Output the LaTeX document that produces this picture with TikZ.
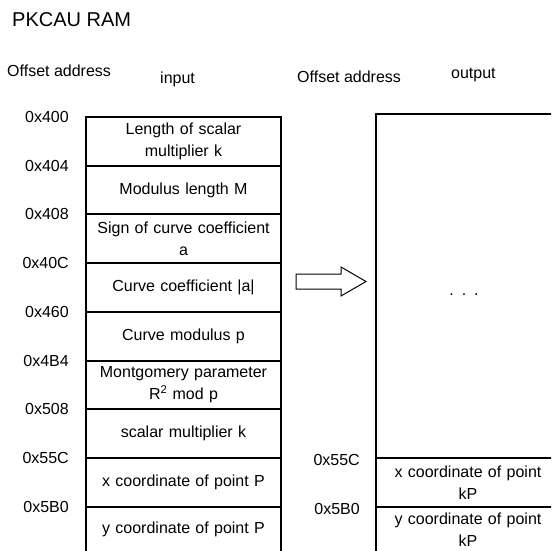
\documentclass[tikz,border=0pt]{standalone}
\usepackage{fontspec}
\setmainfont{Liberation Sans}

\begin{document}
\begin{tikzpicture}[x=1pt,y=-1pt,
  cell/.style={align=center,text width=190pt,inner sep=0pt,font=\fontsize{16}{22}\selectfont},
  addr/.style={anchor=east,inner sep=0pt,font=\fontsize{16}{19}\selectfont},
  head/.style={anchor=base west,inner sep=0pt,font=\fontsize{16}{19}\selectfont}]
\clip (0,0) rectangle (551,551);
\coordinate (A) at (86,117); \coordinate (B) at (281,556);
\coordinate (C) at (376,114); \coordinate (D) at (560,556);
% titles
\node[head,font=\fontsize{20}{24}\selectfont] (title) at (12,27) {PKCAU RAM};
\node[head] (offin) at (7,77) {Offset address};
\node[head] (input) at (160,83) {input};
\node[head] (offout) at (297,82) {Offset address};
\node[head] (output) at (451,78) {output};
% input memory
\draw[line width=1.1pt] (A) rectangle (B);
\foreach \y/\lab [count=\i] in {117/0x400,166/0x404,214/0x408,263/0x40C,312/0x460,361/0x4B4,409/0x508,458/0x55C,507/0x5B0}{
  \draw[line width=1.1pt] (86,\y) -- (281,\y);
  \node[addr] (adr\i) at (69,\y) {\lab};
}
\node[cell] (in1) at (183.5,141.5) {Length of scalar\\multiplier k};
\node[cell] (in2) at (183.5,190) {Modulus length M};
\node[cell] (in3) at (183.5,238.5) {Sign of curve coefficient\\a};
\node[cell] (in4) at (183.5,287.5) {Curve coefficient |a|};
\node[cell] (in5) at (183.5,336.5) {Curve modulus p};
\node[cell] (in6) at (183.5,385) {Montgomery parameter\\R\textsuperscript{2} mod p};
\node[cell] (in7) at (183.5,433.5) {scalar multiplier k};
\node[cell] (in8) at (183.5,482.5) {x coordinate of point P};
\node[cell] (in9) at (183.5,529) {y coordinate of point P};
% arrow
\draw[line width=1pt] (296,274) -- (341,274) -- (341,267) -- (366,281.5) -- (341,296) -- (341,289) -- (296,289) -- cycle;
% output memory
\draw[line width=1.1pt] (C) rectangle (D);
\draw[line width=1.1pt] (376,458) -- (560,458);
\draw[line width=1.1pt] (376,507) -- (560,507);
\node[addr] (out1) at (360,460) {0x55C};
\node[addr] (out2) at (360,509) {0x5B0};
\node[cell,font=\fontsize{16}{19}\selectfont] (dots) at (464,295) {. . .};
\node[cell,text width=180pt] (kpx) at (468,483) {x coordinate of point\\kP};
\node[cell,text width=180pt] (kpy) at (468,530) {y coordinate of point\\kP};
\end{tikzpicture}
\end{document}
